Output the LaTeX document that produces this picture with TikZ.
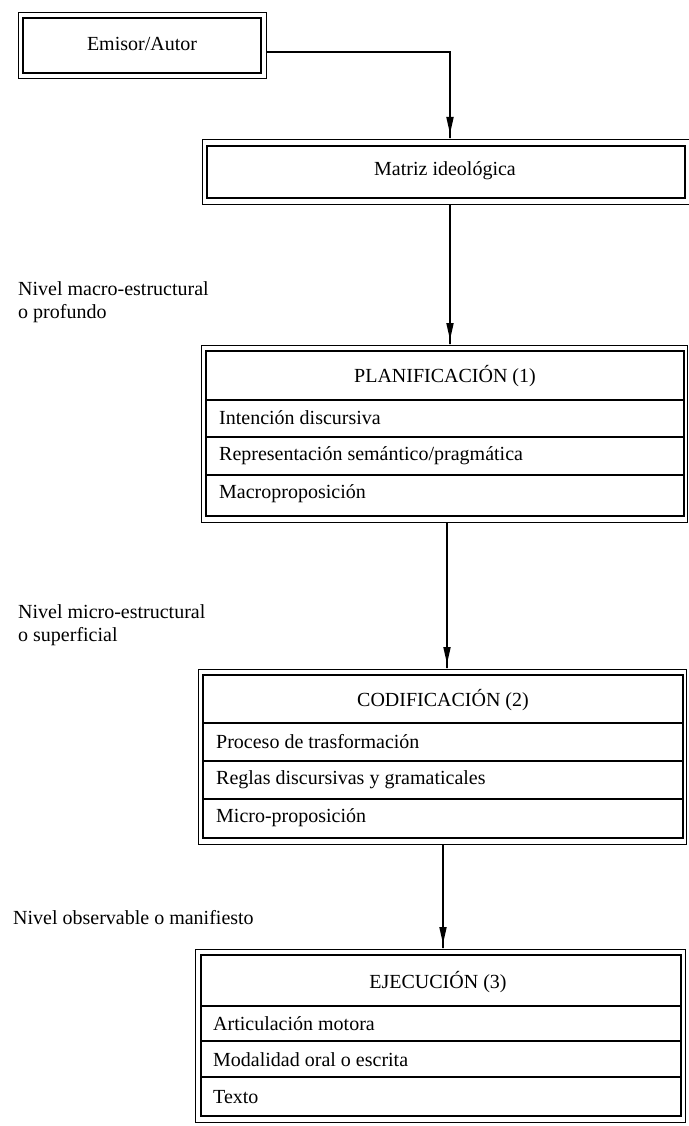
\documentclass[tikz,border=0pt]{standalone}
\usepackage{fontspec}
\setmainfont{Liberation Serif}
\usetikzlibrary{arrows.meta,calc}
\begin{document}
\begin{tikzpicture}[x=1pt,y=-1pt,
  outerframe/.style={draw, line width=0.9pt, inner sep=0pt, outer sep=0pt, anchor=north west},
  innerframe/.style={line width=1.9pt},
  divider/.style={line width=1.5pt},
  txt/.style={font=\fontsize{20}{23}\selectfont, inner sep=0pt},
  rowtxt/.style={txt, anchor=west},
  sidelbl/.style={txt, anchor=north west, align=left},
  conn/.style={line width=1.8pt, -{Triangle[length=17pt,width=7pt] Rectangle[length=5pt,width=1.8pt]}},
]
\path[use as bounding box] (0,0) rectangle (688,1126);

% --- Emisor/Autor ---
\node[outerframe, minimum width=248pt, minimum height=66pt] (emisor) at (18,12) {};
\draw[innerframe] ($(emisor.north west)+(5pt,-6pt)$) rectangle ($(emisor.south east)+(-5pt,5pt)$);
\node[txt] (emisortxt) at (142,44) {Emisor/Autor};

% --- Matriz ideologica (runs past the right edge) ---
\node[outerframe, minimum width=490pt, minimum height=65pt] (matriz) at (202,139) {};
\draw[innerframe] (207,146) -- (685,146) -- (685,198) -- (207,198) -- cycle;
\node[txt] (matriztxt) at (445,171) {Matriz ideológica};

% --- PLANIFICACION (1) ---
\node[outerframe, minimum width=486pt, minimum height=177pt] (plan) at (201,345) {};
\draw[innerframe] ($(plan.north west)+(5pt,-6pt)$) rectangle ($(plan.south east)+(-3pt,6pt)$);
\draw[divider] (206,400) -- (684,400);
\draw[divider] (206,437) -- (684,437);
\draw[divider] (206,475) -- (684,475);
\node[txt] (planh) at (445,376) {PLANIFICACIÓN (1)};
\node[rowtxt] (plana) at (219,418) {Intención discursiva};
\node[rowtxt] (planb) at (219,456) {Representación semántico/pragmática};
\node[rowtxt] (planc) at (219,494) {Macroproposición};

% --- CODIFICACION (2) ---
\node[outerframe, minimum width=488pt, minimum height=175pt] (cod) at (198,669) {};
\draw[innerframe] ($(cod.north west)+(5pt,-6pt)$) rectangle ($(cod.south east)+(-3pt,6pt)$);
\draw[divider] (203,723) -- (683,723);
\draw[divider] (203,761) -- (683,761);
\draw[divider] (203,799) -- (683,799);
\node[txt] (codh) at (443,700) {CODIFICACIÓN (2)};
\node[rowtxt] (coda) at (216,742) {Proceso de trasformación};
\node[rowtxt] (codb) at (216,780) {Reglas discursivas y gramaticales};
\node[rowtxt] (codc) at (216,818) {Micro-proposición};

% --- EJECUCION (3) ---
\node[outerframe, minimum width=490pt, minimum height=173pt] (eje) at (195,949) {};
\draw[innerframe] ($(eje.north west)+(6pt,-6pt)$) rectangle ($(eje.south east)+(-4pt,6pt)$);
\draw[divider] (201,1006) -- (681,1006);
\draw[divider] (201,1041) -- (681,1041);
\draw[divider] (201,1077) -- (681,1077);
\node[txt] (ejeh) at (438,982) {EJECUCIÓN (3)};
\node[rowtxt] (ejea) at (213,1024) {Articulación motora};
\node[rowtxt] (ejeb) at (213,1060) {Modalidad oral o escrita};
\node[rowtxt] (ejec) at (213,1097) {Texto};

% --- level labels ---
\node[sidelbl] (lvmacro) at (18,281) {Nivel macro-estructural\\o profundo};
\node[sidelbl] (lvmicro) at (18,604) {Nivel micro-estructural\\o superficial};
\node[sidelbl] (lvobs) at (13,910) {Nivel observable o manifiesto};

% --- connectors ---
\draw[conn] ([yshift=-7pt]emisor.east) -| ([xshift=3pt]matriz.north);
\draw[conn] ([xshift=3pt]matriz.south) -- ([xshift=3pt]matriz.south |- plan.north);
\draw[conn] ([xshift=3pt]plan.south) -- ([xshift=3pt]plan.south |- cod.north);
\draw[conn] ([xshift=1pt]cod.south) -- ([xshift=1pt]cod.south |- eje.north);
\end{tikzpicture}
\end{document}
